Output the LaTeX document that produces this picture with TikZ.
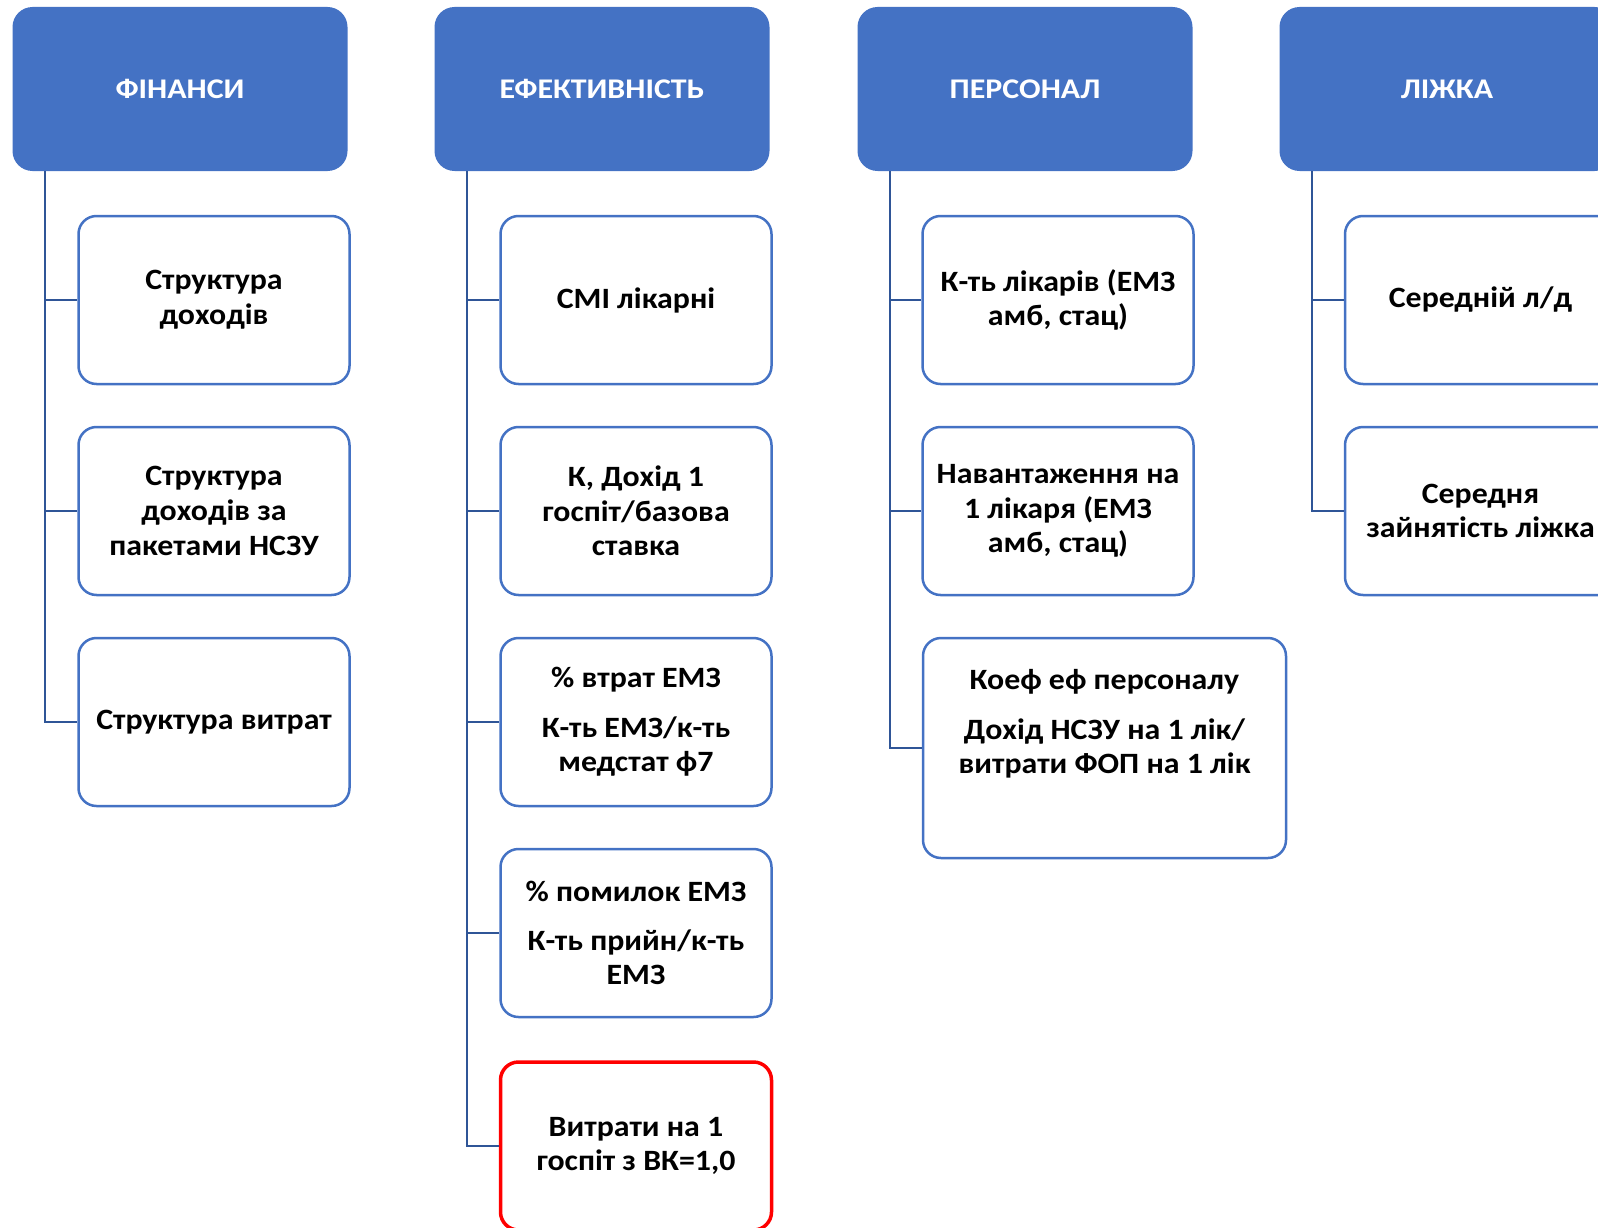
\documentclass[tikz,border=0pt]{standalone}
\usepackage{fontspec}
\setmainfont{Carlito}[FakeStretch=1.08]
\newfontfamily\hdrfont{Carlito}[FakeStretch=1.12]
\definecolor{hblue}{HTML}{4472C4}
\definecolor{cblue}{HTML}{2F5597}
\begin{document}
\begin{tikzpicture}[x=1pt,y=-1pt,
  hdr/.style={draw=none, fill=hblue, rounded corners=20pt, minimum width=335pt, minimum height=164pt, text=white, font=\hdrfont\bfseries\fontsize{28.5}{34}\selectfont, inner sep=0pt},
  kid/.style={draw=hblue, line width=2.5pt, fill=white, rounded corners=18pt, minimum width=271pt, minimum height=168pt, align=center, font=\bfseries\fontsize{29.5}{34.6}\selectfont, inner sep=0pt},
  kidtext/.style={align=center, font=\bfseries\fontsize{29.5}{34.6}\selectfont, inner sep=0pt},
  redkid/.style={kid, draw=red, line width=3.5pt},
  conn/.style={draw=cblue, line width=2.2pt}]
\useasboundingbox (0,0) rectangle (1598,1228);
\clip (0,0) rectangle (1598,1228);
% headers
\node[hdr] (h1) at (180,89) {ФІНАНСИ};
\node[hdr] (h2) at (602,89) {ЕФЕКТИВНІСТЬ};
\node[hdr] (h3) at (1025,89) {ПЕРСОНАЛ};
\node[hdr] (h4) at (1447,89) {ЛІЖКА};
% column 1
\node[kid] (a1) at (214,300) {Структура\\доходів};
\node[kid] (a2) at (214,511) {Структура\\доходів за\\пакетами НСЗУ};
\node[kid] (a3) at (214,722) {Структура витрат};
% column 2
\node[kid] (b1) at (636,300) {СМІ лікарні};
\node[kid] (b2) at (636,511) {К, Дохід 1\\госпіт/базова\\ставка};
\node[kid] (b3) at (636,722) {\% втрат ЕМЗ\\[14.5pt]К-ть ЕМЗ/к-ть\\медстат ф7};
\node[kid] (b4) at (636,933) {\% помилок ЕМЗ\\[14.5pt]К-ть прийн/к-ть\\ЕМЗ};
\node[redkid] (b5) at (636,1146) {Витрати на 1\\госпіт з ВК=1,0};
% column 3
\node[kid] (c1) at (1058,300) {К-ть лікарів (ЕМЗ\\амб, стац)};
\node[kid] (c2) at (1058,511) {Навантаження на\\1 лікаря (ЕМЗ\\амб, стац)};
\node[kid, minimum width=363pt, minimum height=220pt] (c3) at (1104.5,748) {};
\node[kidtext] (c3t) at (1104.5,724) {Коеф еф персоналу\\[14.5pt]Дохід НСЗУ на 1 лік/\\витрати ФОП на 1 лік};
% column 4
\node[kid] (d1) at (1480.5,300) {Середній л/д};
\node[kid] (d2) at (1480.5,511) {Середня\\зайнятість ліжка};
% connectors
\draw[conn] ([xshift=32.6pt]h1.south west) |- (a1.west);
\draw[conn] ([xshift=32.6pt]h1.south west) |- (a2.west);
\draw[conn] ([xshift=32.6pt]h1.south west) |- (a3.west);
\draw[conn] ([xshift=32.6pt]h2.south west) |- (b1.west);
\draw[conn] ([xshift=32.6pt]h2.south west) |- (b2.west);
\draw[conn] ([xshift=32.6pt]h2.south west) |- (b3.west);
\draw[conn] ([xshift=32.6pt]h2.south west) |- (b4.west);
\draw[conn] ([xshift=32.6pt]h2.south west) |- (b5.west);
\draw[conn] ([xshift=32.6pt]h3.south west) |- (c1.west);
\draw[conn] ([xshift=32.6pt]h3.south west) |- (c2.west);
\draw[conn] ([xshift=32.6pt]h3.south west) |- (c3.west);
\draw[conn] ([xshift=32.6pt]h4.south west) |- (d1.west);
\draw[conn] ([xshift=32.6pt]h4.south west) |- (d2.west);
\end{tikzpicture}
\end{document}
